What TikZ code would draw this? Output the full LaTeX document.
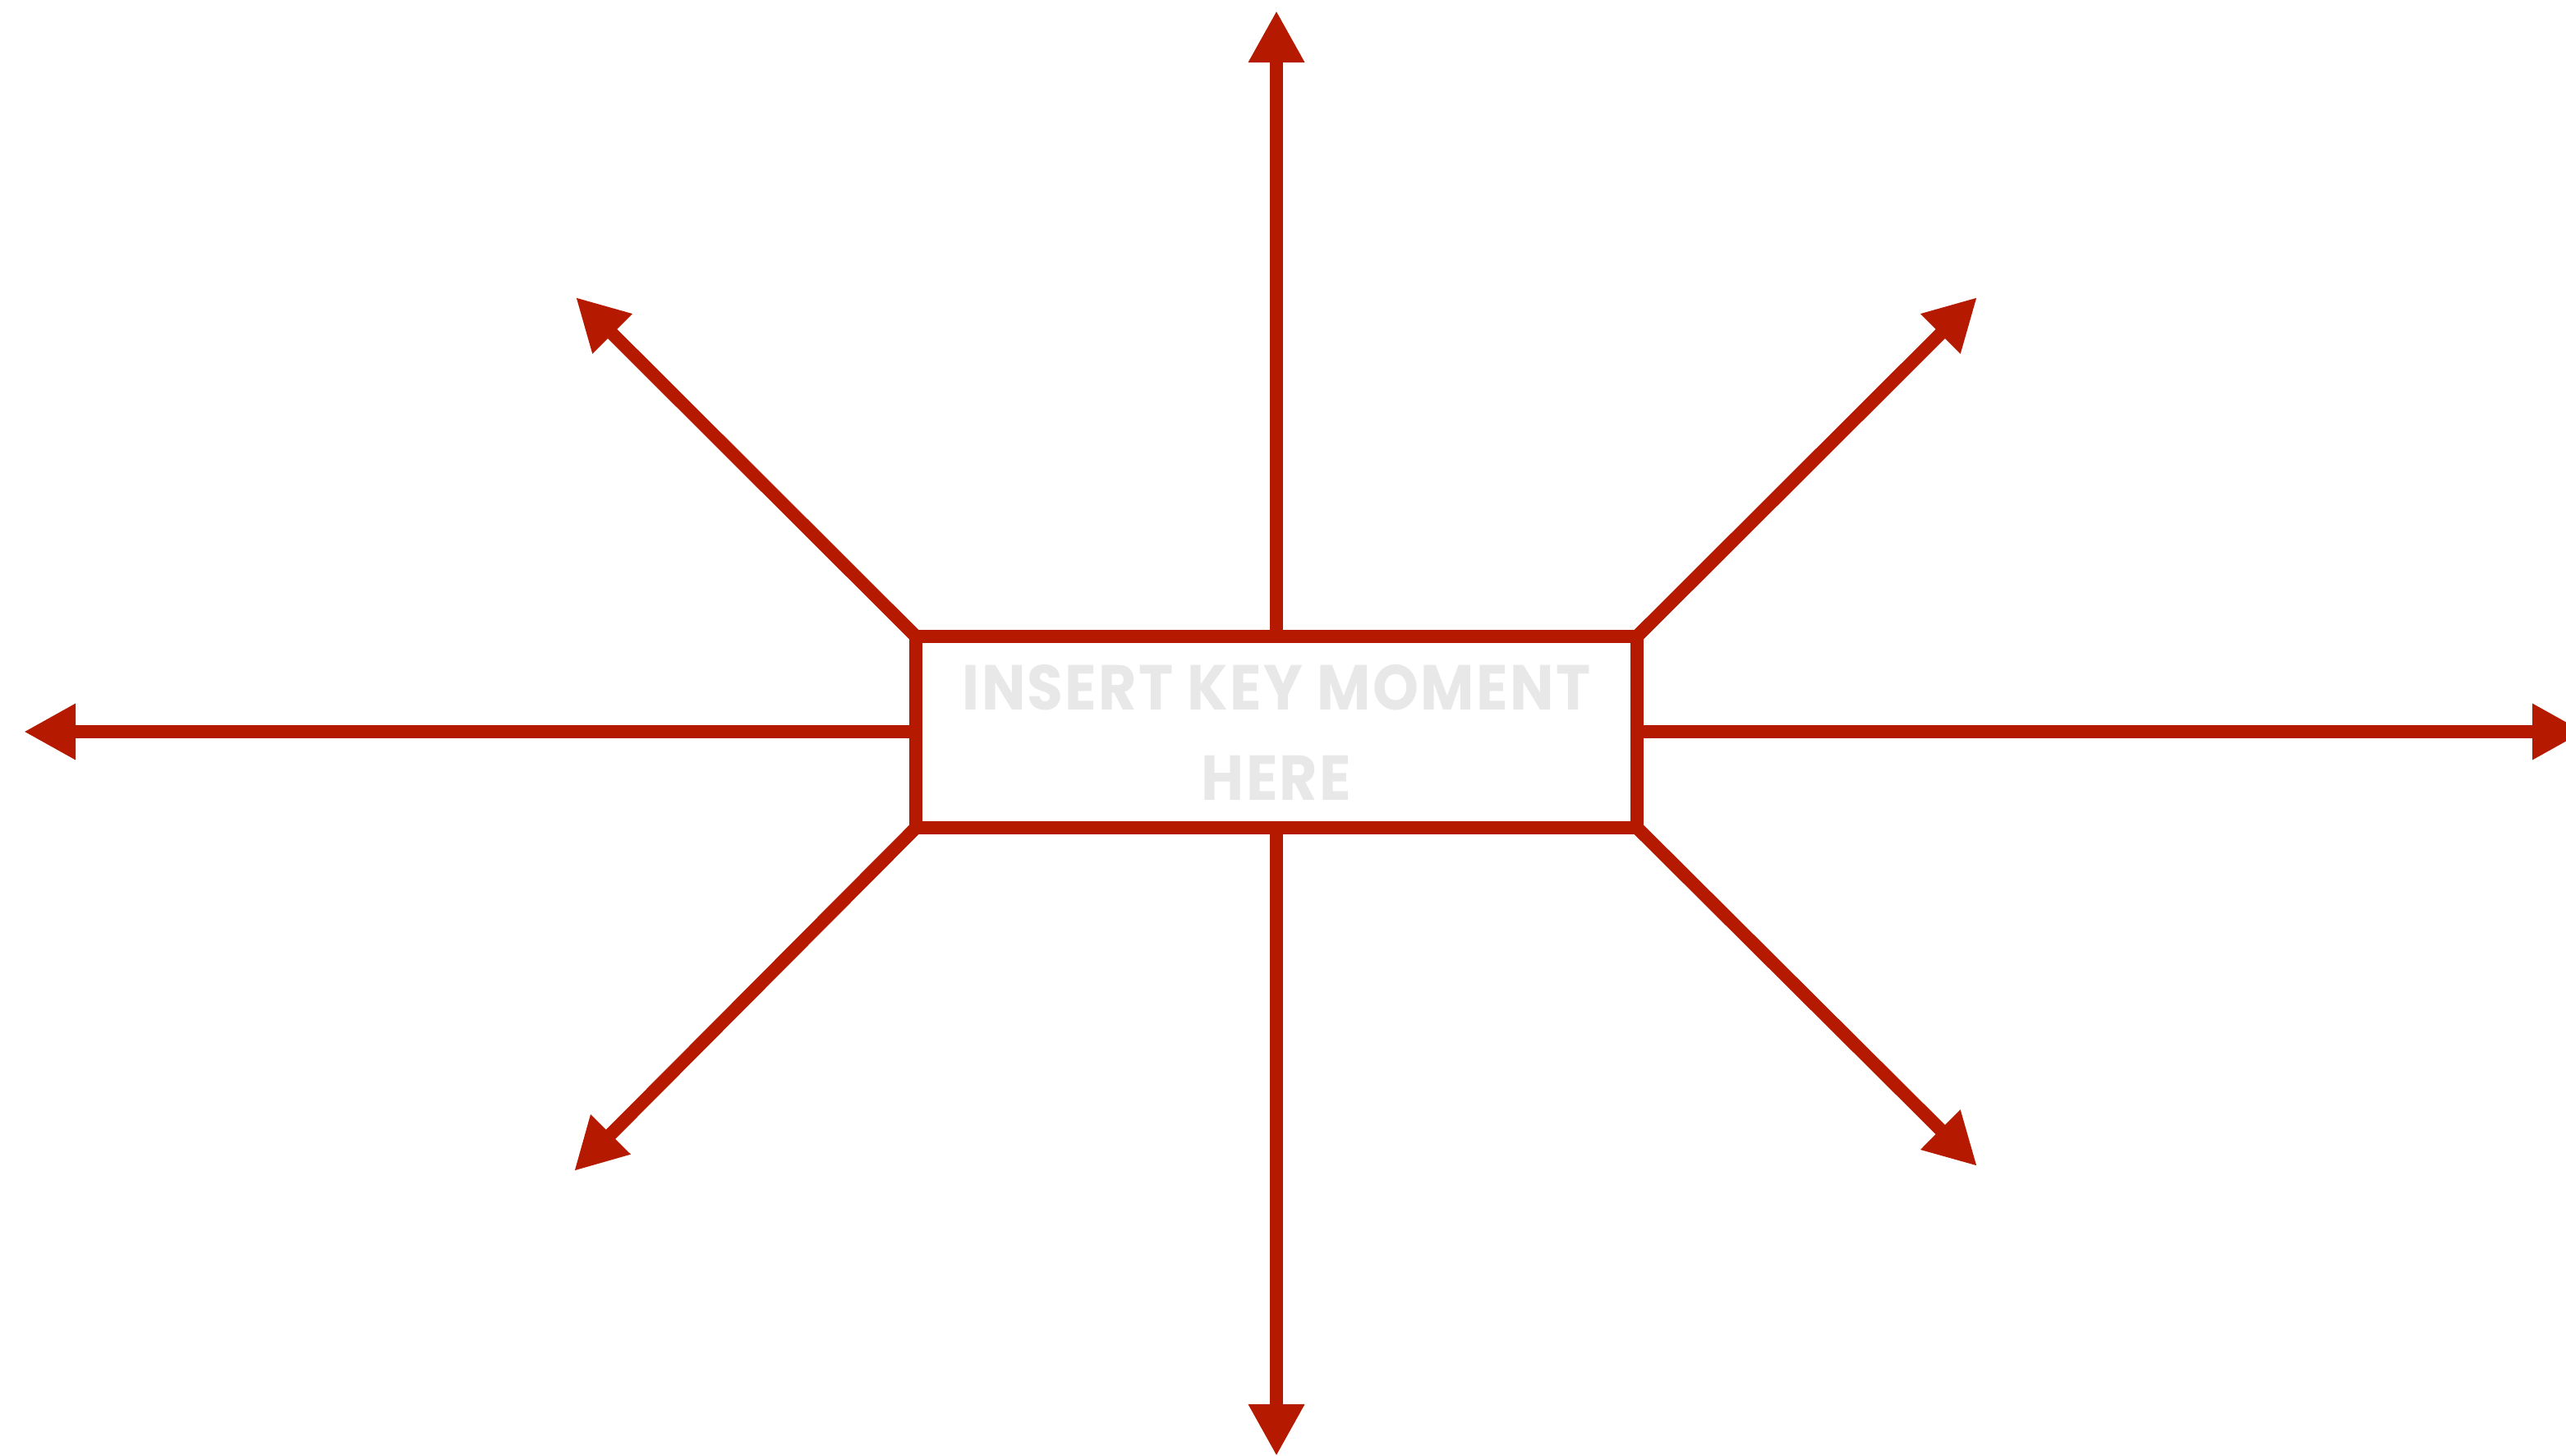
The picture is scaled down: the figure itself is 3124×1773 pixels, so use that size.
\documentclass[tikz,border=0pt]{standalone}
\usepackage{fontspec}
\usepackage{tikz}
\usetikzlibrary{arrows.meta}
\newfontfamily\keyfont{Poppins}[LetterSpace=3, FakeStretch=0.92]
\definecolor{arrowRed}{HTML}{B51A00}
\definecolor{labelGray}{HTML}{E8E8E8}
\tikzset{
  keybox/.style={draw=arrowRed, line width=0.16cm, fill=white, outer sep=0pt,
    minimum width=8.78cm, minimum height=2.33cm, inner sep=0pt,
    font=\keyfont\bfseries\fontsize{22}{31.3}\selectfont, text=labelGray, align=center},
  ray/.style={draw=arrowRed, line width=0.16cm,
    -{Triangle[length=0.63cm, width=0.64cm]}}
}

\begin{document}
\begin{tikzpicture}[x=0.01cm, y=-0.01cm]
    \useasboundingbox (0,0) rectangle (3124,1773);
    % arrow tips
    \coordinate (tipN) at (1554,13);
    \coordinate (tipS) at (1554,1773);
    \coordinate (tipW) at (29,891);
    \coordinate (tipE) at (3146,891);
    \coordinate (tipNW) at (701,362);
    \coordinate (tipNE) at (2407,362);
    \coordinate (tipSW) at (699,1426);
    \coordinate (tipSE) at (2407,1420);
    \draw[ray] (1554,775) -- (tipN);
    \draw[ray] (1554,1008) -- (tipS);
    \draw[ray] (1115,891) -- (tipW);
    \draw[ray] (1993,891) -- (tipE);
    \draw[ray] (1115,775) -- (tipNW);
    \draw[ray] (1993,775) -- (tipNE);
    \draw[ray] (1115,1008) -- (tipSW);
    \draw[ray] (1993,1008) -- (tipSE);
    \node[keybox] (moment) at (1554,891.5) {INSERT KEY MOMENT\\HERE};
\end{tikzpicture}
\end{document}
